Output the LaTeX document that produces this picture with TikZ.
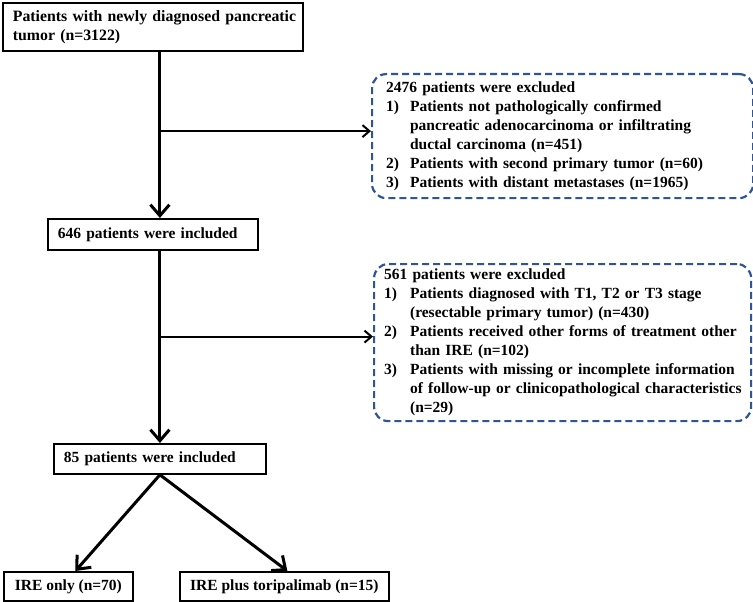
\documentclass[tikz,border=0pt]{standalone}
\usepackage{fontspec}
\setmainfont{Liberation Serif}
\usepackage{xcolor}
\usetikzlibrary{arrows.meta, positioning, calc}
\definecolor{dashblue}{RGB}{47,85,151}

\begin{document}
\begin{tikzpicture}[x=1pt, y=-1pt,
    font=\fontsize{15.5}{19}\selectfont\bfseries,
    box/.style={rectangle, draw, line width=1.8pt, anchor=north west, inner ysep=0pt},
    exbox/.style={rectangle, draw=dashblue, line width=2.2pt, dash pattern=on 7pt off 4pt,
        rounded corners=14pt, anchor=north west, inner ysep=0pt, align=left},
    main/.style={line width=3pt, -{Straight Barb[length=11pt,width=19pt]}},
    branch/.style={line width=2pt, -{Straight Barb[length=7pt,width=12pt]}}]
    \useasboundingbox (0,0) rectangle (753,602);
    % 纳入流程的方框
    \node[box, text width=280pt, inner xsep=10pt, minimum height=48pt, align=left,
        font=\fontsize{15.8}{19}\selectfont\bfseries] (start) at (2,2)
        {\mbox{Patients with newly diagnosed pancreatic}\\\mbox{tumor (n=3122)}};
    \node[box, text width=190pt, inner xsep=10pt, minimum height=31pt, align=left] (inc1) at (47,218)
        {646 patients were included};
    \node[box, text width=192pt, inner xsep=10pt, minimum height=30pt, align=left] (inc2) at (53,443)
        {85 patients were included};
    \node[box, minimum width=129pt, minimum height=29pt, inner xsep=0pt] (ire) at (3,571)
        {IRE only (n=70)};
    \node[box, minimum width=209pt, minimum height=29pt, inner xsep=0pt] (irepd) at (179,571)
        {IRE plus toripalimab (n=15)};
    % 排除标准(虚线圆角框)
    \node[exbox, text width=353pt, inner xsep=14pt, minimum height=124pt] (exc1) at (371,73)
        {\begin{tabular}{@{}p{24pt}@{}l@{}}
            \multicolumn{2}{@{}l@{}}{2476 patients were excluded}\\
            1) & Patients not pathologically confirmed\\
               & pancreatic adenocarcinoma or infiltrating\\
               & ductal carcinoma (n=451)\\
            2) & Patients with second primary tumor (n=60)\\
            3) & Patients with distant metastases (n=1965)
        \end{tabular}};
    \node[exbox, text width=357pt, inner xsep=10pt, minimum height=157pt] (exc2) at (373,263)
        {\begin{tabular}{@{}p{26pt}@{}l@{}}
            \multicolumn{2}{@{}l@{}}{561 patients were excluded}\\
            1) & Patients diagnosed with T1, T2 or T3 stage\\
               & (resectable primary tumor) (n=430)\\
            2) & Patients received other forms of treatment other\\
               & than IRE (n=102)\\
            3) & Patients with missing or incomplete information\\
               & of follow-up or clinicopathological characteristics\\
               & (n=29)
        \end{tabular}};
    % 主干箭头
    \draw[main] (start.south -| inc2) -- (inc1.north -| inc2);
    \draw[main] (inc1.south -| inc2) -- (inc2.north);
    % 分支到排除框
    \draw[branch] ([yshift=5pt]exc1.west -| inc2) -- ([yshift=5pt]exc1.west);
    \draw[branch] ([yshift=6pt]exc2.west -| inc2) -- ([yshift=6pt]exc2.west);
    % 分组
    \draw[main] (inc2.south) -- ([xshift=7pt]ire.north);
    \draw[main] (inc2.south) -- ([xshift=3pt]irepd.north);
\end{tikzpicture}
\end{document}
